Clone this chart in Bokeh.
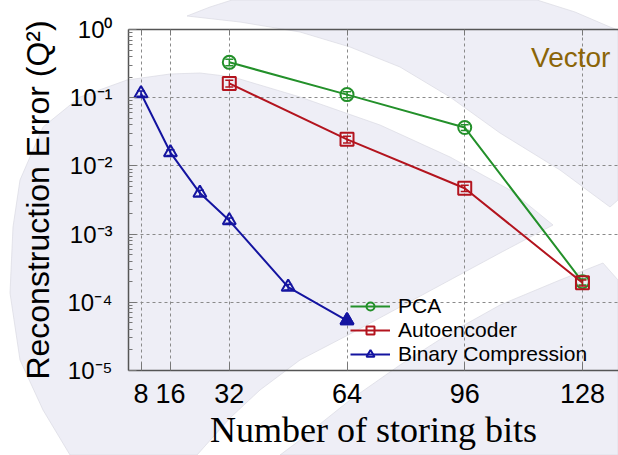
from urllib.parse import quote
from bokeh.plotting import figure
from bokeh.models import (FixedTicker, LinearAxis, Legend, LegendItem, Label,
                          Whisker, ColumnDataSource, TeeHead, CustomLabelingPolicy)
from bokeh.embed import file_html
from bokeh.resources import INLINE

# ---------------- data ----------------
series_names = ["PCA", "Autoencoder", "Binary Compression"]

bits_pca = [32, 64, 96, 128]
pca_q2 = [0.33, 0.111, 0.0365, 0.000200]
pca_sd = [0.035, 0.011, 0.0035, 0.00002]

bits_ae = [32, 64, 96, 128]
ae_q2 = [0.162, 0.0245, 0.0047, 0.000193]
ae_sd = [0.018, 0.0028, 0.0005, 0.00002]

bits_bin = [8, 16, 24, 32, 48, 64]
bin_q2 = [0.115, 0.0157, 0.0040, 0.00158, 0.000167, 0.000054]
bin_sd = [0.010, 0.0015, 0.0004, 0.00014, 0.000016, 0.000005]

x_ticks = [8, 16, 32, 64, 96, 128]
y_ticks = [1e-5, 1e-4, 1e-3, 1e-2, 1e-1, 1.0]
y_tick_labels = ["10⁻⁵", "10⁻⁴", "10⁻³", "10⁻²", "10⁻¹", "10⁰"]

# ---------------- styles ----------------
GREEN = "#23902a"
RED = "#b3141e"
BLUE = "#1414a0"
SANS = "Liberation Sans"
SERIF = "Liberation Serif"

p = figure(width=618, height=455, y_axis_type="log",
           x_range=(4.6, 137.8), y_range=(1e-5, 1.0),
           output_backend="svg", toolbar_location=None,
           min_border_left=128, min_border_right=0,
           min_border_top=29, min_border_bottom=85)
p.outline_line_color = None
p.background_fill_alpha = 0
p.border_fill_alpha = 0

# ---------------- decorative page watermark (CSS background, canvas pixels) ----------------
watermark = [
    [(70, 455), (43, 410), (20, 360), (10, 293), (13, 227), (20, 180), (43, 127), (80, 97),
     (127, 80), (170, 74), (200, 73), (233, 77), (300, 97), (380, 125), (450, 157),
     (510, 190), (553, 225), (500, 253), (450, 280), (400, 307), (350, 334), (300, 360),
     (260, 390), (230, 418), (197, 455)],
    [(187, 16), (210, 7), (232, 0), (537, 0), (575, 12), (610, 27), (618, 30), (618, 200),
     (610, 207), (560, 170), (500, 133), (450, 97), (400, 67), (350, 47), (300, 32),
     (240, 22)],
    [(280, 455), (300, 440), (350, 400), (400, 365), (450, 333), (500, 305), (560, 280),
     (603, 263), (618, 280), (618, 455)],
]
polys = "".join(
    '<polygon points="%s" fill="rgb(238,238,246)" stroke="rgb(218,218,226)" stroke-width="0.7"/>'
    % " ".join("%d,%d" % pt for pt in shape)
    for shape in watermark)
svg_bg = ('<svg xmlns="http://www.w3.org/2000/svg" width="618" height="455">'
          + polys + '</svg>')
p.styles = {
    "background-color": "white",
    "background-image": 'url("data:image/svg+xml,%s")' % quote(svg_bg),
    "background-repeat": "no-repeat",
    "background-size": "618px 455px",
}

# ---------------- axes ----------------
xt = FixedTicker(ticks=x_ticks, minor_ticks=[])
minor_y = [m * 10.0 ** e for e in range(-5, 0) for m in range(2, 10)]
yt = FixedTicker(ticks=y_ticks, minor_ticks=minor_y)

xa = p.xaxis[0]
xa.ticker = xt
xa.axis_label = "Number of storing bits"
xa.axis_label_text_font = SERIF
xa.axis_label_text_font_size = "36px"
xa.axis_label_text_font_style = "normal"
xa.axis_label_text_color = "black"
xa.axis_label_standoff = 4
xa.major_label_text_font = SANS
xa.major_label_text_font_size = "27px"
xa.major_label_text_color = "black"
xa.major_label_standoff = 13
xa.major_tick_in = 8
xa.major_tick_out = 0
xa.axis_line_color = "#555555"
xa.axis_line_width = 1.5
xa.major_tick_line_color = "#777777"

ya = p.yaxis[0]
ya.ticker = yt
ya.major_label_overrides = {v: s for v, s in zip(y_ticks, y_tick_labels)}
ya.axis_label = "Reconstruction Error (Q²)"
ya.axis_label_text_font = SANS
ya.axis_label_text_font_size = "32px"
ya.axis_label_text_font_style = "normal"
ya.axis_label_text_color = "black"
ya.axis_label_standoff = 8
ya.major_label_text_font = SANS
ya.major_label_text_font_size = "24px"
ya.major_label_text_color = "black"
ya.major_label_standoff = 16
ya.major_tick_in = 8
ya.major_tick_out = 0
ya.minor_tick_in = 4
ya.minor_tick_out = 0
ya.axis_line_color = "#555555"
ya.axis_line_width = 1.5
ya.major_tick_line_color = "#777777"
ya.minor_tick_line_color = "#777777"

top = LinearAxis(ticker=xt,
                 major_label_policy=CustomLabelingPolicy(code="return new Set()"),
                 major_tick_in=6, major_tick_out=0, minor_tick_in=0, minor_tick_out=0,
                 axis_line_color="#555555", axis_line_width=1.5,
                 major_tick_line_color="#777777", major_label_standoff=0)
p.add_layout(top, "above")

p.xgrid.ticker = xt
p.ygrid.ticker = yt
p.grid.grid_line_color = "#8a8a8a"
p.grid.grid_line_dash = "3 3"
p.grid.grid_line_width = 1

# ---------------- series ----------------
def add_series(bits, vals, sd, color, marker):
    ln = p.line(bits, vals, line_color=color, line_width=2)
    src = ColumnDataSource(dict(x=bits,
                                lower=[v - e for v, e in zip(vals, sd)],
                                upper=[v + e for v, e in zip(vals, sd)]))
    p.add_layout(Whisker(source=src, base="x", lower="lower", upper="upper",
                         dimension="height", line_color=color, line_width=1.5,
                         upper_head=TeeHead(size=8, line_color=color, line_width=1.5),
                         lower_head=TeeHead(size=8, line_color=color, line_width=1.5),
                         level="glyph"))
    sc = p.scatter(bits, vals, marker=marker, size=13, fill_color=None,
                   line_color=color, line_width=2)
    return ln, sc

r_pca = add_series(bits_pca, pca_q2, pca_sd, GREEN, "circle")
r_ae = add_series(bits_ae, ae_q2, ae_sd, RED, "square")
r_bin = add_series(bits_bin, bin_q2, bin_sd, BLUE, "triangle")
# last binary point appears filled
p.scatter(bits_bin[-1:], bin_q2[-1:], marker="triangle", size=13,
          fill_color=BLUE, line_color=BLUE, line_width=2)

legend = Legend(items=[LegendItem(label=n, renderers=list(r))
                       for n, r in zip(series_names, [r_pca, r_ae, r_bin])],
                location=(222, 4), orientation="vertical",
                label_text_font=SANS, label_text_font_size="21px",
                label_text_color="black",
                glyph_width=40, glyph_height=20, label_height=20,
                label_standoff=8, spacing=0, padding=0, margin=0,
                background_fill_alpha=0, border_line_color=None)
p.add_layout(legend)

p.add_layout(Label(x=135.6, y=0.39, text="Vector", text_align="right",
                   text_baseline="alphabetic", text_font=SANS,
                   text_font_size="28px", text_color="#8b6508"))

open("out.html", "w").write(file_html(p, INLINE))
